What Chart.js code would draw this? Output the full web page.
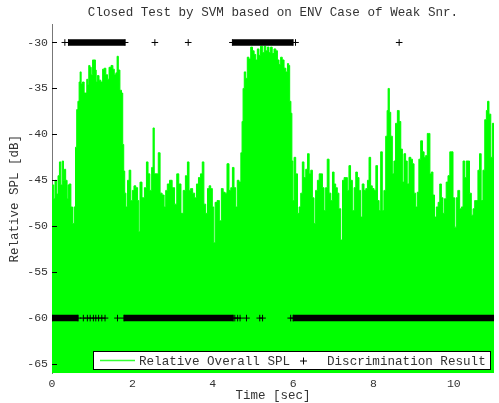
<!DOCTYPE html>
<html>
<head>
<meta charset="utf-8">
<title>Closed Test by SVM</title>
<script src="https://cdn.jsdelivr.net/npm/chart.js@4.4.0/dist/chart.umd.min.js"></script>
<style>
  html, body { margin: 0; padding: 0; background: #ffffff; }
  #wrap { width: 499px; height: 403px; }
</style>
</head>
<body>
<div id="wrap"><canvas id="myChart" width="499" height="403"></canvas></div>
<script>
"use strict";

/* ****************************************************************************
    DATA
**************************************************************************** */
// time [sec] of each envelope reading of the relative overall SPL
var splTimes = [
  0.00, 0.03, 0.06, 0.09, 0.13, 0.17, 0.20, 0.24, 0.27, 0.30, 0.32, 0.36, 0.39, 0.41, 0.45, 0.49, 0.53, 0.57,
  0.60, 0.63, 0.66, 0.69, 0.71, 0.74, 0.78, 0.82, 0.85, 0.88, 0.90, 0.93, 0.96, 0.99, 1.03, 1.07, 1.09, 1.11,
  1.15, 1.19, 1.24, 1.28, 1.32, 1.36, 1.40, 1.44, 1.50, 1.53, 1.57, 1.61, 1.63, 1.67, 1.71, 1.75, 1.77, 1.80,
  1.82, 1.86, 1.90, 1.94, 1.98, 2.02, 2.06, 2.11, 2.15, 2.17, 2.21, 2.27, 2.33, 2.37, 2.41, 2.46, 2.50, 2.53,
  2.56, 2.62, 2.67, 2.71, 2.77, 2.81, 2.85, 2.89, 2.96, 3.02, 3.08, 3.13, 3.18, 3.24, 3.29, 3.35, 3.39, 3.43,
  3.47, 3.53, 3.57, 3.62, 3.67, 3.72, 3.76, 3.80, 3.85, 3.89, 3.93, 3.97, 4.01, 4.04, 4.08, 4.14, 4.19, 4.24,
  4.28, 4.33, 4.38, 4.43, 4.47, 4.51, 4.55, 4.59, 4.63, 4.68, 4.72, 4.74, 4.77, 4.80, 4.84, 4.88, 4.92, 4.97,
  5.01, 5.05, 5.09, 5.13, 5.17, 5.21, 5.26, 5.30, 5.34, 5.38, 5.42, 5.46, 5.50, 5.55, 5.59, 5.63, 5.67, 5.71,
  5.75, 5.80, 5.84, 5.88, 5.90, 5.93, 5.96, 5.98, 6.01, 6.04, 6.09, 6.13, 6.17, 6.21, 6.25, 6.29, 6.34, 6.38,
  6.42, 6.46, 6.50, 6.54, 6.58, 6.63, 6.67, 6.71, 6.75, 6.79, 6.83, 6.87, 6.92, 6.96, 7.00, 7.04, 7.08, 7.12,
  7.16, 7.21, 7.25, 7.29, 7.33, 7.37, 7.41, 7.45, 7.50, 7.54, 7.58, 7.62, 7.66, 7.70, 7.74, 7.79, 7.83, 7.87,
  7.91, 7.95, 7.99, 8.04, 8.08, 8.12, 8.16, 8.20, 8.24, 8.28, 8.33, 8.35, 8.38, 8.41, 8.45, 8.49, 8.53, 8.57,
  8.62, 8.66, 8.70, 8.74, 8.78, 8.82, 8.86, 8.91, 8.95, 8.99, 9.03, 9.07, 9.11, 9.15, 9.20, 9.24, 9.28, 9.32,
  9.36, 9.39, 9.42, 9.46, 9.50, 9.54, 9.59, 9.63, 9.67, 9.71, 9.75, 9.79, 9.83, 9.88, 9.92, 9.96, 10.00, 10.04,
  10.08, 10.12, 10.17, 10.21, 10.25, 10.29, 10.33, 10.37, 10.41, 10.46, 10.50, 10.54, 10.58, 10.62, 10.66,
  10.70, 10.75, 10.79, 10.83, 10.85, 10.90, 10.94, 10.98, 11.02
];
// relative overall SPL [dB] (upper envelope of the signal)
var splValues = [
  -46.2, -45.5, -47.0, -45.0, -46.5, -44.5, -43.0, -45.5, -42.9, -45.0, -43.8, -45.0, -47.0, -45.5, -45.4, -47.9, -49.7, -47.9,
  -41.4, -37.3, -36.4, -34.3, -33.2, -34.5, -34.3, -35.5, -35.5, -34.0, -34.6, -32.5, -32.7, -33.5, -31.9, -31.9, -33.0, -34.3,
  -33.6, -34.1, -34.3, -32.9, -32.8, -33.5, -34.0, -32.7, -32.5, -32.9, -33.5, -33.3, -31.5, -33.0, -35.2, -35.5, -41.1, -44.0,
  -46.4, -47.9, -45.0, -43.9, -47.2, -46.1, -45.6, -45.8, -47.2, -50.6, -45.2, -46.9, -45.8, -43.0, -44.3, -46.1, -43.6, -39.3,
  -44.3, -44.3, -42.0, -46.4, -46.6, -47.9, -46.1, -45.4, -45.0, -45.8, -47.6, -44.3, -45.4, -48.6, -46.1, -44.5, -43.0, -46.1,
  -45.9, -46.4, -46.9, -45.4, -44.7, -44.3, -43.0, -47.6, -48.6, -45.9, -45.6, -45.9, -47.9, -51.8, -47.4, -47.2, -49.4, -45.9,
  -46.3, -46.4, -43.2, -46.1, -45.8, -43.6, -45.8, -47.9, -45.0, -45.2, -42.0, -38.6, -35.0, -33.2, -33.9, -31.6, -31.8, -30.5,
  -30.9, -31.3, -31.9, -30.7, -31.4, -30.4, -31.1, -30.4, -30.9, -30.5, -31.1, -30.5, -31.2, -30.7, -30.9, -31.9, -32.4, -31.6,
  -31.9, -32.8, -33.2, -32.3, -32.5, -36.4, -37.7, -42.9, -47.2, -42.5, -44.3, -48.6, -47.9, -46.4, -43.0, -44.7, -43.8, -42.1,
  -44.3, -43.9, -46.9, -49.7, -46.1, -45.0, -44.3, -44.3, -45.8, -48.3, -45.8, -42.7, -46.4, -47.2, -44.1, -45.4, -45.8, -46.4,
  -48.1, -51.5, -45.0, -44.7, -44.7, -46.1, -43.4, -45.0, -48.3, -45.8, -44.1, -44.7, -46.1, -49.0, -45.4, -46.1, -45.9, -45.0,
  -42.5, -45.6, -45.9, -46.1, -43.4, -47.2, -48.3, -41.9, -48.3, -46.1, -40.2, -37.4, -35.0, -37.6, -40.2, -44.3, -42.9, -38.8,
  -37.4, -38.6, -41.6, -45.2, -42.1, -42.9, -45.4, -42.5, -42.7, -43.2, -46.4, -47.9, -46.3, -42.7, -40.7, -41.9, -42.5, -42.3,
  -39.9, -39.9, -44.3, -44.1, -46.6, -49.0, -47.9, -47.4, -45.4, -46.9, -48.6, -47.0, -45.2, -44.5, -41.9, -41.9, -46.9, -50.1,
  -46.9, -46.1, -48.1, -47.9, -42.9, -44.7, -42.9, -42.9, -46.4, -48.8, -48.1, -47.2, -47.2, -43.9, -42.1,
  -47.2, -43.9, -38.4, -37.4, -36.4, -37.8, -42.5, -38.8, -42.5
];

// discrimination result: output levels of the classifier
var upperLevel = -30;
var lowerLevel = -60;
// [start, end] time runs where the result markers are packed solid
var upperRuns = [[0.41, 1.82], [4.49, 6.00]];
var lowerRuns = [[0.00, 0.65], [1.79, 4.51], [6.00, 11.02]];
// isolated result markers [sec]
var upperSingles = [0.32, 2.56, 3.39, 6.06, 8.64];
var lowerSingles = [0.78, 0.88, 0.95, 1.03, 1.09, 1.16, 1.24, 1.32, 1.63, 4.55, 4.62, 4.68, 4.84, 5.17, 5.24, 5.94];

// axis ticks
var xTicks = [0, 2, 4, 6, 8, 10];
var yTicks = [-65, -60, -55, -50, -45, -40, -35, -30];

/* ****************************************************************************
    CHART
**************************************************************************** */
var FONT = "'Liberation Mono', 'DejaVu Sans Mono', monospace";
var TEXT = "#333333";

Chart.defaults.font.family = FONT;
Chart.defaults.color = TEXT;

function buildSpl() {
  let pts = [];
  for (let i = 0; i < splTimes.length; i++) {
    pts.push({ x: splTimes[i], y: splValues[i] });
  }
  return pts;
}

function buildRuns() {
  let pts = [];
  upperRuns.forEach(function (r) {
    pts.push({ x: r[0], y: upperLevel }, { x: r[1], y: upperLevel }, { x: r[1], y: null });
  });
  lowerRuns.forEach(function (r) {
    pts.push({ x: r[0], y: lowerLevel }, { x: r[1], y: lowerLevel }, { x: r[1], y: null });
  });
  return pts;
}

function buildCrosses() {
  let pts = [];
  upperSingles.forEach(function (t) { pts.push({ x: t, y: upperLevel }); });
  lowerSingles.forEach(function (t) { pts.push({ x: t, y: lowerLevel }); });
  upperRuns.forEach(function (r) {
    pts.push({ x: r[0], y: upperLevel }, { x: r[1], y: upperLevel });
  });
  lowerRuns.forEach(function (r) {
    pts.push({ x: r[0], y: lowerLevel }, { x: r[1], y: lowerLevel });
  });
  return pts;
}

// inward tick marks on the y axis
var innerTicks = {
  id: "innerTicks",
  afterDatasetsDraw: function (chart) {
    const ctx = chart.ctx;
    const y = chart.scales.y;
    const left = chart.chartArea.left;
    ctx.save();
    ctx.strokeStyle = "#000000";
    ctx.lineWidth = 1;
    yTicks.forEach(function (v) {
      const py = Math.round(y.getPixelForValue(v)) + 0.5;
      ctx.beginPath();
      ctx.moveTo(left, py);
      ctx.lineTo(left + 5, py);
      ctx.stroke();
    });
    ctx.restore();
  }
};

// boxed legend in the lower right of the plot
var boxLegend = {
  id: "boxLegend",
  afterDraw: function (chart) {
    const ctx = chart.ctx;
    const bx = 93.5, by = 351.5, bw = 397, bh = 18;
    const my = by + bh / 2;
    ctx.save();
    ctx.fillStyle = "#ffffff";
    ctx.fillRect(bx, by, bw, bh);
    ctx.strokeStyle = "#000000";
    ctx.lineWidth = 1;
    ctx.strokeRect(bx, by, bw, bh);
    // line sample
    ctx.strokeStyle = "#33ff33";
    ctx.lineWidth = 1.5;
    ctx.beginPath();
    ctx.moveTo(100, my);
    ctx.lineTo(135, my);
    ctx.stroke();
    // marker sample
    ctx.strokeStyle = "#000000";
    ctx.lineWidth = 1;
    ctx.beginPath();
    ctx.moveTo(300, my + 0.5);
    ctx.lineTo(307, my + 0.5);
    ctx.moveTo(303.5, my - 3);
    ctx.lineTo(303.5, my + 4);
    ctx.stroke();
    ctx.fillStyle = TEXT;
    ctx.font = "12.6px " + FONT;
    ctx.textBaseline = "middle";
    ctx.fillText("Relative Overall SPL", 139, my + 1);
    ctx.fillText("Discrimination Result", 327, my + 1);
    ctx.restore();
  }
};

function renderChart() {
  const config = {
    type: "line",
    data: {
      datasets: [
        {
          label: "Discrimination Result",
          data: buildCrosses(),
          showLine: false,
          pointStyle: "cross",
          pointRadius: 3.3,
          pointBorderWidth: 1,
          pointBorderColor: "#000000",
          borderColor: "#000000",
          order: 0
        },
        {
          label: "runs",
          data: buildRuns(),
          borderColor: "#000000",
          borderWidth: 6.5,
          borderCapStyle: "butt",
          pointRadius: 0,
          spanGaps: false,
          order: 1
        },
        {
          label: "Relative Overall SPL",
          data: buildSpl(),
          borderColor: "#00ff00",
          backgroundColor: "#00ff00",
          borderWidth: 1,
          pointRadius: 0,
          stepped: "middle",
          fill: "start",
          order: 2
        }
      ]
    },
    options: {
      responsive: false,
      animation: false,
      devicePixelRatio: 1,
      layout: { padding: { left: 0, right: 5, top: 0, bottom: 0 } },
      plugins: {
        legend: { display: false },
        tooltip: { enabled: false },
        title: {
          display: true,
          fullSize: false,
          text: "Closed Test by SVM based on ENV Case of Weak Snr.",
          color: TEXT,
          font: { size: 12.6, weight: "normal", family: FONT },
          padding: { top: 5, bottom: 4 }
        }
      },
      scales: {
        x: {
          type: "linear",
          min: 0,
          max: 11,
          afterBuildTicks: function (scale) {
            scale.ticks = xTicks.map(function (v) { return { value: v }; });
          },
          afterFit: function (scale) { scale.height = 29.8; },
          grid: { display: false, drawTicks: false },
          border: { display: false },
          ticks: { padding: 4, maxRotation: 0, color: TEXT, font: { size: 11.5 } },
          title: {
            display: true,
            text: "Time [sec]",
            color: TEXT,
            font: { size: 12.5 },
            padding: { top: 0, bottom: 0 }
          }
        },
        y: {
          type: "linear",
          min: -66,
          max: -28,
          afterBuildTicks: function (scale) {
            scale.ticks = yTicks.map(function (v) { return { value: v }; });
          },
          afterFit: function (scale) { scale.width = 52; },
          grid: { display: true, drawOnChartArea: false, drawTicks: false },
          border: { display: true, color: "#777777", width: 1 },
          ticks: { padding: 4, color: TEXT, font: { size: 11.5 } },
          title: {
            display: true,
            text: "Relative SPL [dB]",
            color: TEXT,
            font: { size: 12.5 },
            padding: { top: 7, bottom: 0 }
          }
        }
      }
    },
    plugins: [innerTicks, boxLegend]
  };

  const canvasChart = document.getElementById("myChart");
  return new Chart(canvasChart, config);
}

renderChart();
</script>
</body>
</html>
